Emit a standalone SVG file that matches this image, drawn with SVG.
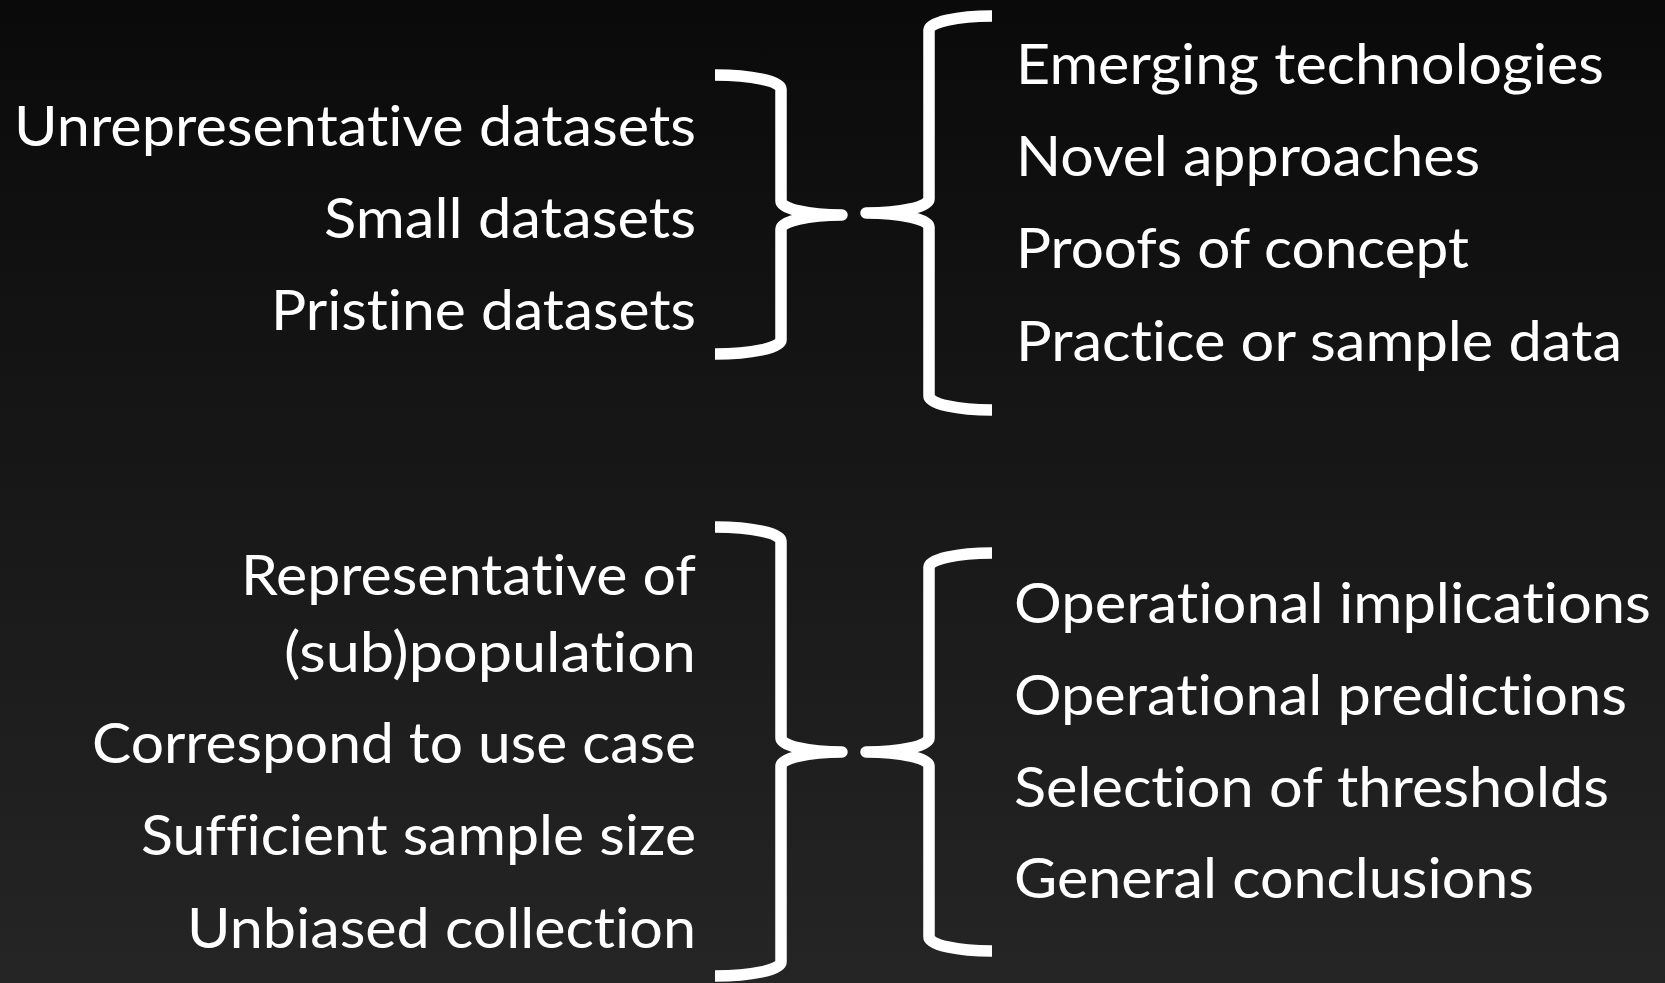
<svg xmlns="http://www.w3.org/2000/svg" width="1665" height="983" viewBox="0 0 1665 983">
  <defs>
    <linearGradient id="bg" x1="0" y1="0" x2="0" y2="1">
      <stop offset="0" stop-color="#0a0a0a"/>
      <stop offset="1" stop-color="#252525"/>
    </linearGradient>
    <style>
      .t { font-family: Lato, "Open Sans", "Liberation Sans", sans-serif; font-size: 57px; fill: #ffffff;
           font-variant-ligatures: none; font-feature-settings: "liga" 0, "dlig" 0; }
      .r { text-anchor: end; }
      .l { text-anchor: start; }
      .brace { fill: none; stroke: #ffffff; stroke-width: 11.5; stroke-linejoin: round; stroke-linecap: butt; }
    </style>
  </defs>

  <rect x="0" y="0" width="1665" height="983" fill="url(#bg)"/>

  <!-- Top block: data characteristics -->
  <g id="top-data">
    <text class="t r" x="696" y="146" textLength="682" lengthAdjust="spacingAndGlyphs">Unrepresentative datasets</text>
    <text class="t r" x="696" y="238" textLength="372" lengthAdjust="spacingAndGlyphs">Small datasets</text>
    <text class="t r" x="696" y="330" textLength="425" lengthAdjust="spacingAndGlyphs">Pristine datasets</text>
  </g>

  <!-- Top block: suitable uses -->
  <g id="top-uses">
    <text class="t l" x="1016" y="84" textLength="588" lengthAdjust="spacingAndGlyphs">Emerging technologies</text>
    <text class="t l" x="1016" y="176" textLength="464" lengthAdjust="spacingAndGlyphs">Novel approaches</text>
    <text class="t l" x="1016" y="268" textLength="453" lengthAdjust="spacingAndGlyphs">Proofs of concept</text>
    <text class="t l" x="1016" y="361" textLength="606" lengthAdjust="spacingAndGlyphs">Practice or sample data</text>
  </g>

  <!-- Bottom block: data characteristics -->
  <g id="bottom-data">
    <text class="t r" x="696" y="595" textLength="455" lengthAdjust="spacingAndGlyphs">Representative of</text>
    <text class="t r" x="696" y="672" textLength="412" lengthAdjust="spacingAndGlyphs">(sub)population</text>
    <text class="t r" x="696" y="763" textLength="604" lengthAdjust="spacingAndGlyphs">Correspond to use case</text>
    <text class="t r" x="696" y="855" textLength="555" lengthAdjust="spacingAndGlyphs">Sufficient sample size</text>
    <text class="t r" x="696" y="948" textLength="509" lengthAdjust="spacingAndGlyphs">Unbiased collection</text>
  </g>

  <!-- Bottom block: suitable uses -->
  <g id="bottom-uses">
    <text class="t l" x="1014" y="623" textLength="637" lengthAdjust="spacingAndGlyphs">Operational implications</text>
    <text class="t l" x="1014" y="715" textLength="613" lengthAdjust="spacingAndGlyphs">Operational predictions</text>
    <text class="t l" x="1014" y="807" textLength="595" lengthAdjust="spacingAndGlyphs">Selection of thresholds</text>
    <text class="t l" x="1014" y="898" textLength="520" lengthAdjust="spacingAndGlyphs">General conclusions</text>
  </g>

  <!-- Braces joining each data list to its uses -->
  <g id="connectors">
    <!-- top: closing brace -->
    <path class="brace" d="M715,75 A66,14 0 0 1 781,89 L781,201 A61,14 0 0 0 842,215 A61,14 0 0 0 781,229 L781,340 A66,14 0 0 1 715,354"/>
    <!-- top: opening brace -->
    <path class="brace" d="M992,16 A63,14 0 0 0 929,30 L929,199 A63,14 0 0 1 866,213 A63,14 0 0 1 929,227 L929,396 A63,14 0 0 0 992,410"/>
    <!-- bottom: closing brace -->
    <path class="brace" d="M715,527 A66,14 0 0 1 781,541 L781,738 A61,14 0 0 0 842,752 A61,14 0 0 0 781,766 L781,962 A66,14 0 0 1 715,976"/>
    <!-- bottom: opening brace -->
    <path class="brace" d="M992,553 A63,14 0 0 0 929,567 L929,738 A63,14 0 0 1 866,752 A63,14 0 0 1 929,766 L929,937 A63,14 0 0 0 992,951"/>
  </g>
</svg>
